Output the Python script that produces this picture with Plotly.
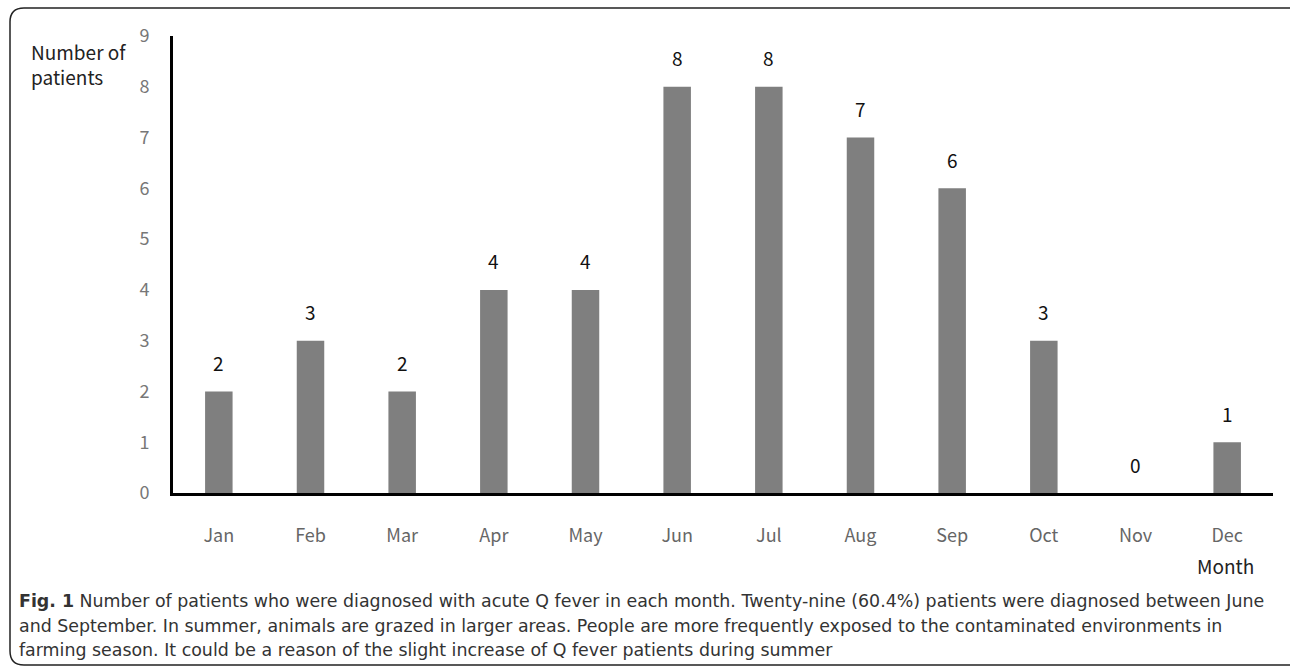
import plotly.graph_objects as go

months = ["Jan", "Feb", "Mar", "Apr", "May", "Jun", "Jul", "Aug", "Sep", "Oct", "Nov", "Dec"]
patients = [2, 3, 2, 4, 4, 8, 8, 7, 6, 3, 0, 1]
y_ticks = [0, 1, 2, 3, 4, 5, 6, 7, 8, 9]
caption_lines = [
    "<b>Fig. 1</b> Number of patients who were diagnosed with acute Q fever in each month. Twenty-nine (60.4%) patients were diagnosed between June",
    "and September. In summer, animals are grazed in larger areas. People are more frequently exposed to the contaminated environments in",
    "farming season. It could be a reason of the slight increase of Q fever patients during summer",
]

W, H = 1290, 668
L, R, T, B = 173, 17, 36, 175
PW, PH = W - L - R, H - T - B


def fx(px):
    return (px - L) / PW


def fy(py):
    return (H - B - py) / PH


chart_font = "Noto Sans CJK KR, Noto Sans, sans-serif"
tick_font = "Liberation Sans Narrow, Noto Sans CJK KR, sans-serif"
cap_font = "DejaVu Sans, Open Sans, sans-serif"

fig = go.Figure()
fig.add_trace(go.Bar(
    x=months, y=patients, width=0.3,
    marker=dict(color="#7f7f7f", line=dict(width=0)),
    hoverinfo="x+y",
))

annotations = []
for m, v in zip(months, patients):
    annotations.append(dict(x=m, y=v, xref="x", yref="y", text=str(v), showarrow=False,
                            yshift=29, font=dict(family=chart_font, size=19, color="#111")))

annotations.append(dict(x=fx(29), y=fy(36), xref="paper", yref="paper", xanchor="left", yanchor="top",
                        text="Number of<br>patients", align="left", showarrow=False,
                        font=dict(family=chart_font, size=19, color="#222")))
annotations.append(dict(x=fx(1225), y=fy(565), xref="paper", yref="paper", xanchor="center", yanchor="middle",
                        text="Month", showarrow=False,
                        font=dict(family=chart_font, size=19, color="#222")))
for i, line in enumerate(caption_lines):
    annotations.append(dict(x=fx(17), y=fy(601 + 24.5 * i), xref="paper", yref="paper",
                            xanchor="left", yanchor="middle", text=line, showarrow=False, align="left",
                            font=dict(family=cap_font, size=17.4, color="#333")))

r = 14
x0, x1, y0, y1 = 10, 1302, 8, 665
path = (f"M {fx(x0 + r)},{fy(y0)} L {fx(x1 - r)},{fy(y0)} Q {fx(x1)},{fy(y0)} {fx(x1)},{fy(y0 + r)} "
        f"L {fx(x1)},{fy(y1 - r)} Q {fx(x1)},{fy(y1)} {fx(x1 - r)},{fy(y1)} "
        f"L {fx(x0 + r)},{fy(y1)} Q {fx(x0)},{fy(y1)} {fx(x0)},{fy(y1 - r)} "
        f"L {fx(x0)},{fy(y0 + r)} Q {fx(x0)},{fy(y0)} {fx(x0 + r)},{fy(y0)} Z")

fig.update_layout(
    width=W, height=H,
    margin=dict(l=L, r=R, t=T, b=B),
    paper_bgcolor="white", plot_bgcolor="white",
    showlegend=False,
    annotations=annotations,
    shapes=[dict(type="path", path=path, xref="paper", yref="paper",
                 line=dict(color="#222", width=1.5), layer="above")],
    xaxis=dict(range=[-0.5, 11.5], showline=True, linecolor="black", linewidth=3,
               showgrid=False, zeroline=False, ticks="", ticklabelstandoff=24,
               tickfont=dict(family=tick_font, size=18, color="#666")),
    yaxis=dict(range=[0, 9], tickvals=y_ticks, showline=True, linecolor="black", linewidth=3,
               showgrid=False, zeroline=False, ticks="", ticklabelstandoff=17,
               tickfont=dict(family=tick_font, size=18, color="#777")),
)

fig.write_html("out.html", config={"displayModeBar": False},
               post_script="document.body.style.margin='0';document.body.style.overflow='hidden';")
